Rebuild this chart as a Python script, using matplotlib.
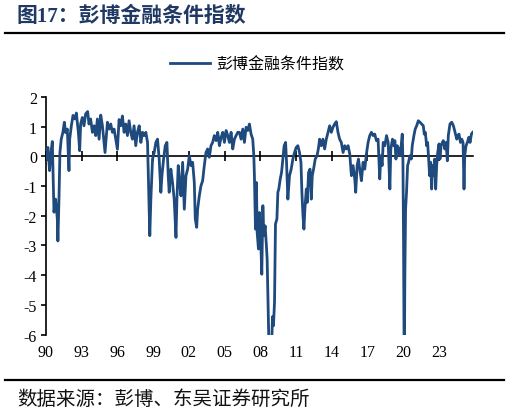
import matplotlib
matplotlib.use("Agg")
import matplotlib.pyplot as plt
from matplotlib.lines import Line2D

plt.rcParams['font.family'] = ['Liberation Serif', 'Noto Sans CJK SC', 'DejaVu Sans']
plt.rcParams['axes.unicode_minus'] = False

# ---- data ----
years = [
    1990.02, 1990.16, 1990.30, 1990.41, 1990.53, 1990.67, 1990.81, 1990.95, 1991.00, 1991.09,
    1991.17, 1991.28, 1991.42, 1991.54, 1991.65, 1991.79, 1991.93, 1991.99, 1992.13, 1992.27,
    1992.43, 1992.55, 1992.72, 1992.83, 1992.91, 1993.05, 1993.19, 1993.33, 1993.50, 1993.61,
    1993.75, 1993.90, 1994.04, 1994.18, 1994.32, 1994.46, 1994.60, 1994.74, 1994.88, 1994.96,
    1995.16, 1995.30, 1995.44, 1995.58, 1995.72, 1995.86, 1996.00, 1996.14, 1996.28, 1996.42,
    1996.56, 1996.70, 1996.84, 1996.98, 1997.12, 1997.26, 1997.40, 1997.54, 1997.68, 1997.83,
    1997.97, 1998.11, 1998.25, 1998.39, 1998.53, 1998.64, 1998.72, 1998.81, 1998.95, 1999.09,
    1999.23, 1999.37, 1999.51, 1999.65, 1999.74, 1999.88, 2000.02, 2000.16, 2000.27, 2000.35,
    2000.49, 2000.63, 2000.77, 2000.92, 2001.00, 2001.11, 2001.22, 2001.34, 2001.48, 2001.62,
    2001.76, 2001.90, 2002.04, 2002.18, 2002.32, 2002.46, 2002.54, 2002.66, 2002.74, 2002.88,
    2003.02, 2003.16, 2003.30, 2003.44, 2003.58, 2003.72, 2003.86, 2004.00, 2004.14, 2004.29,
    2004.43, 2004.57, 2004.71, 2004.85, 2004.99, 2005.13, 2005.27, 2005.41, 2005.55, 2005.69,
    2005.83, 2005.97, 2006.11, 2006.25, 2006.39, 2006.53, 2006.67, 2006.81, 2006.95, 2007.09,
    2007.23, 2007.37, 2007.46, 2007.51, 2007.60, 2007.68, 2007.74, 2007.85, 2007.93, 2008.02,
    2008.13, 2008.22, 2008.30, 2008.41, 2008.50, 2008.58, 2008.67, 2008.72, 2008.83, 2008.92,
    2008.97, 2009.03, 2009.11, 2009.20, 2009.28, 2009.40, 2009.48, 2009.56, 2009.68, 2009.79,
    2009.90, 2010.01, 2010.13, 2010.21, 2010.32, 2010.46, 2010.60, 2010.74, 2010.88, 2011.02,
    2011.16, 2011.30, 2011.42, 2011.50, 2011.59, 2011.67, 2011.75, 2011.87, 2011.95, 2012.06,
    2012.18, 2012.29, 2012.37, 2012.48, 2012.62, 2012.77, 2012.88, 2012.99, 2013.13, 2013.27,
    2013.41, 2013.55, 2013.69, 2013.83, 2013.97, 2014.11, 2014.25, 2014.39, 2014.53, 2014.67,
    2014.81, 2014.96, 2015.10, 2015.24, 2015.38, 2015.52, 2015.66, 2015.80, 2015.94, 2016.02,
    2016.14, 2016.25, 2016.36, 2016.50, 2016.64, 2016.78, 2016.92, 2017.06, 2017.20, 2017.34,
    2017.48, 2017.62, 2017.76, 2017.90, 2018.04, 2018.13, 2018.24, 2018.33, 2018.47, 2018.61,
    2018.75, 2018.89, 2018.97, 2019.11, 2019.23, 2019.31, 2019.40, 2019.51, 2019.62, 2019.73,
    2019.84, 2019.93, 2019.99, 2020.04, 2020.10, 2020.15, 2020.21, 2020.29, 2020.38, 2020.46,
    2020.57, 2020.69, 2020.77, 2020.91, 2021.02, 2021.14, 2021.28, 2021.42, 2021.56, 2021.70,
    2021.78, 2021.87, 2021.98, 2022.06, 2022.15, 2022.23, 2022.32, 2022.40, 2022.48, 2022.57,
    2022.65, 2022.74, 2022.82, 2022.91, 2023.02, 2023.10, 2023.19, 2023.30, 2023.38, 2023.50,
    2023.61, 2023.72, 2023.80, 2023.94, 2024.09, 2024.23, 2024.37, 2024.51, 2024.59, 2024.70,
    2024.82, 2024.93, 2025.04, 2025.12, 2025.18, 2025.29, 2025.40, 2025.52, 2025.63, 2025.74,
    2025.85,
]
fci_values = [
    -0.10, 0.30, -0.48, 0.10, 0.50, -1.88, -1.44, -2.10, -2.85, -1.44,
    0.13, 0.58, 0.81, 1.15, 0.80, 0.92, -0.48, 0.58, 1.03, 1.38,
    1.26, 1.46, 0.81, 0.19, 1.09, 1.31, 1.03, 1.43, 1.51, 1.09,
    1.26, 0.81, 1.03, 0.70, 1.26, 0.58, 1.39, 1.03, 0.47, 0.13,
    1.15, 0.92, 1.09, 0.81, 0.92, 0.58, 0.24, 1.24, 1.03, 1.36,
    0.81, 1.09, 0.70, 1.20, 0.81, 0.58, 1.03, 0.36, 0.81, 1.03,
    0.47, 0.81, 0.70, 0.81, 0.47, -1.44, -2.67, -1.44, -0.09, 0.13,
    0.47, 0.58, -0.09, -1.21, -0.65, -0.09, 0.36, 0.47, -0.65, -1.21,
    -0.43, -0.88, -1.44, -2.73, -1.44, -0.31, -0.88, -1.33, -0.20, -1.78,
    -0.65, -0.43, 0.02, -0.31, -0.20, -0.88, -2.10, -2.39, -1.78, -1.33,
    -0.99, -0.82, -0.31, 0.13, 0.25, -0.03, 0.36, 0.47, 0.70, 0.53,
    0.81, 0.36, 0.64, 0.81, 0.47, 0.87, 0.70, 0.47, 0.81, 0.25,
    0.58, 0.70, 0.81, 0.81, 0.58, 0.92, 0.47, 0.98, 0.87, 1.09,
    0.75, 0.58, 0.02, -0.65, -2.45, -0.88, -2.56, -3.12, -1.89, -2.56,
    -3.97, -1.66, -2.67, -2.34, -2.90, -3.46, -5.15, -6.20, -10.50, -9.00,
    -6.20, -5.40, -5.70, -4.90, -2.28, -2.11, -1.21, -1.10, -0.76, -0.54,
    -0.09, 0.36, 0.47, -0.20, -1.44, -0.65, -0.43, -0.09, 0.13, 0.30,
    0.36, 0.13, -0.20, -1.21, -2.00, -2.45, -1.78, -1.10, -1.55, -0.54,
    -0.43, -1.44, -0.65, -0.43, -0.09, 0.02, 0.25, 0.58, 0.36, 0.58,
    0.25, 0.58, 0.81, 1.03, 0.81, 0.98, 1.09, 1.17, 0.81, 0.58,
    0.47, 0.13, 0.36, 0.25, 0.36, 0.08, -0.65, -0.31, -0.76, -1.21,
    -0.31, -0.09, -0.43, -0.82, -0.20, -0.43, 0.08, 0.47, 0.70, 0.81,
    0.70, 0.75, 0.53, 0.58, -0.76, 0.02, -0.31, 0.47, 0.36, 0.70,
    0.47, -1.10, 0.25, 0.58, 0.36, 0.53, -0.09, 0.36, 0.25, 0.02,
    0.36, 0.75, -0.20, -2.90, -7.50, -4.00, -1.78, -1.21, -0.31, -0.20,
    0.02, -0.09, 0.36, 0.70, 0.92, 1.03, 1.20, 1.15, 1.09, 1.03,
    0.75, 0.81, 0.36, 0.47, -0.09, -0.65, -0.20, -1.10, -0.31, -0.65,
    -0.09, -1.10, -0.31, 0.13, 0.42, -0.09, 0.36, 0.47, 0.53, 0.25,
    0.47, -0.15, 0.70, 1.09, 1.15, 1.03, 0.81, 0.58, 0.70, 0.75,
    0.47, 0.58, 0.47, -1.10, 0.02, 0.36, 0.47, 0.64, 0.47, 0.75,
    0.81,
]
tick_years = list(range(1990, 2024, 3))
tick_labels = ['90', '93', '96', '99', '02', '05', '08', '11', '14', '17', '20', '23']
y_ticks = [-6, -5, -4, -3, -2, -1, 0, 1, 2]

series_name = '彭博金融条件指数'
title_text = '图17：彭博金融条件指数'
source_text = '数据来源：彭博、东吴证券研究所'

# ---- figure ----
W, H = 510, 414
fig = plt.figure(figsize=(W / 100, H / 100), dpi=100)
fig.patch.set_facecolor('white')

ax = fig.add_axes([46 / W, 1 - 335.5 / H, (473.3 - 46) / W, (335.5 - 98) / H])
line_color = '#1F4A7E'
ax.plot(years, fci_values, color=line_color, lw=2.0, zorder=3,
        solid_joinstyle='round', label=series_name)

ax.set_xlim(1990, 2025.9)
ax.set_ylim(-6, 2)

for s in ['top', 'right']:
    ax.spines[s].set_visible(False)
ax.spines['bottom'].set_position(('data', 0))
ax.spines['bottom'].set_linewidth(1.2)
ax.spines['left'].set_linewidth(1.2)

ax.set_xticks(tick_years)
ax.tick_params(axis='x', direction='inout', length=7, width=1.2, labelbottom=False)
ax.set_yticks(y_ticks)
ax.set_yticklabels([str(v) for v in y_ticks])
ax.tick_params(axis='y', direction='out', length=3.5, width=1.2, pad=3, labelsize=11.5)

sec = ax.secondary_xaxis(0.0)
sec.set_xticks(tick_years, tick_labels)
sec.spines['bottom'].set_visible(False)
sec.tick_params(axis='x', length=0, pad=7, labelsize=11.5)

# legend
leg = fig.legend(loc='center', bbox_to_anchor=(257 / W, 1 - 65 / H), frameon=False,
                 handlelength=2.5, handletextpad=0.35,
                 prop={'family': 'Noto Sans CJK SC', 'size': 11.5})

# title & rules
fig.text(17 / W, 1 - 17 / H, title_text, fontsize=15, fontweight='bold',
         color='#1F3864', ha='left', va='center',
         family=['Liberation Serif', 'Noto Sans CJK SC'])
fig.add_artist(Line2D([5 / W, 504 / W], [1 - 34.3 / H] * 2, transform=fig.transFigure,
                      color='black', lw=1.6))
fig.add_artist(Line2D([5 / W, 504 / W], [1 - 380.7 / H] * 2, transform=fig.transFigure,
                      color='black', lw=1.6))
fig.text(17 / W, 1 - 399 / H, source_text, fontsize=14, color='#111111',
         ha='left', va='center', family=['Noto Sans CJK SC', 'DejaVu Sans'])

fig.savefig('out.png', dpi=100, facecolor='white')
